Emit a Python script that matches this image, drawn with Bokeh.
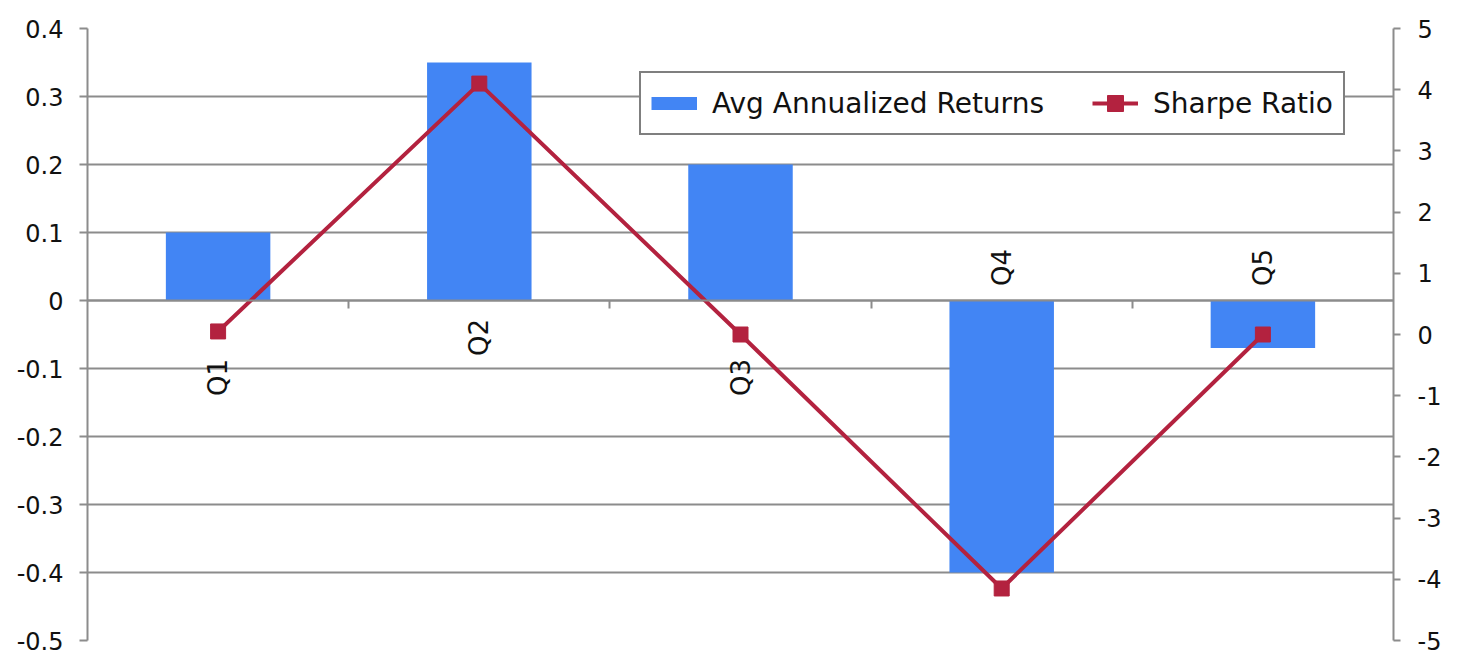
import math
from bokeh.plotting import figure
from bokeh.models import (Range1d, LinearAxis, FixedTicker, NumeralTickFormatter,
                          ColumnDataSource, Legend, LegendItem)
from bokeh.core.properties import value
from bokeh.embed import file_html
from bokeh.resources import INLINE

# ---- data ----
categories = ["Q1", "Q2", "Q3", "Q4", "Q5"]
avg_returns = [0.10, 0.35, 0.20, -0.40, -0.07]
sharpe_ratio = [0.05, 4.1, 0.0, -4.15, 0.0]
left_ticks = [-0.5, -0.4, -0.3, -0.2, -0.1, 0, 0.1, 0.2, 0.3, 0.4]
right_ticks = [-5, -4, -3, -2, -1, 0, 1, 2, 3, 4, 5]

# ---- styles ----
FONT = "DejaVu Sans"
BLUE = "#4285F4"
RED = "#B3223F"
GREY = "#8c8c8c"
TEXT = "#111111"
label_offsets = [77, 37, 77, -33, -33]  # pixel offsets of category labels from the zero line

n = len(categories)
xpos = [i + 0.5 for i in range(n)]          # category slot centres
boundaries = list(range(1, n))              # category slot boundaries

p = figure(width=1465, height=655,
           x_range=Range1d(0, n),
           y_range=Range1d(left_ticks[0], left_ticks[-1]),
           output_backend="svg", toolbar_location=None,
           x_axis_location="below", y_axis_location="left",
           min_border_left=87, min_border_right=72,
           min_border_top=28, min_border_bottom=15)
p.outline_line_color = None
p.background_fill_color = "white"
p.border_fill_color = "white"
p.xgrid.visible = False

p.extra_y_ranges = {"sharpe": Range1d(right_ticks[0], right_ticks[-1])}

def style_axis(ax, tick_out):
    ax.axis_line_color = GREY
    ax.axis_line_width = 2
    ax.major_tick_line_color = GREY
    ax.major_tick_line_width = 2
    ax.major_tick_out = tick_out
    ax.major_tick_in = 0
    ax.minor_tick_line_color = None
    ax.major_label_text_font = FONT
    ax.major_label_text_font_size = "24px"
    ax.major_label_text_color = TEXT

# left axis
ya = p.yaxis[0]
ya.ticker = FixedTicker(ticks=left_ticks)
ya.formatter = NumeralTickFormatter(format="0.[0]")
style_axis(ya, 8)
ya.major_label_standoff = 16

# right axis
ra = LinearAxis(y_range_name="sharpe", ticker=FixedTicker(ticks=right_ticks),
                formatter=NumeralTickFormatter(format="0"))
style_axis(ra, 7)
ra.major_label_standoff = 17
p.add_layout(ra, "right")

# category axis crossing at zero, ticks at category boundaries
za = p.xaxis[0]
za.fixed_location = 0
za.ticker = FixedTicker(ticks=boundaries)
style_axis(za, 8)
za.major_label_text_color = None
za.major_label_text_font_size = "1px"
za.major_label_standoff = 0

# grid
p.ygrid.ticker = FixedTicker(ticks=left_ticks)
p.ygrid.grid_line_color = GREY
p.ygrid.grid_line_width = 2

src = ColumnDataSource(dict(x=xpos, cat=categories, ret=avg_returns, sr=sharpe_ratio,
                            zero=[0] * n, off=label_offsets))

p.vbar(x="x", top="ret", bottom=0, width=0.4, source=src,
       fill_color=BLUE, line_color=None)

sr_line = p.line(x="x", y="sr", source=src, y_range_name="sharpe",
                 line_color=RED, line_width=4)
sr_pts = p.scatter(x="x", y="sr", source=src, y_range_name="sharpe",
                   marker="square", size=15, fill_color=RED, line_color=RED)

p.text(x="x", y="zero", text="cat", source=src, angle=math.pi / 2,
       y_offset="off", text_align="center", text_baseline="middle",
       text_font=value(FONT), text_font_size="26px", text_color=TEXT)

# legend swatch for bars (renderer with no visible points, used only for the legend)
swatch = p.line(x=[float("nan")], y=[float("nan")], line_color=BLUE,
                line_width=13, line_cap="butt")

legend = Legend(items=[LegendItem(label="Avg Annualized Returns", renderers=[swatch]),
                       LegendItem(label="Sharpe Ratio", renderers=[sr_line, sr_pts])],
                orientation="horizontal", location=(552, 505))
legend.glyph_width = 46
legend.glyph_height = 40
legend.padding = 10
legend.margin = 0
legend.spacing = 48
legend.label_standoff = 15
legend.label_text_font = FONT
legend.label_text_font_size = "28px"
legend.label_text_color = TEXT
legend.border_line_color = "black"
legend.border_line_width = 2
legend.background_fill_color = "white"
legend.background_fill_alpha = 1
p.add_layout(legend, "center")

open("out.html", "w").write(file_html(p, INLINE))
